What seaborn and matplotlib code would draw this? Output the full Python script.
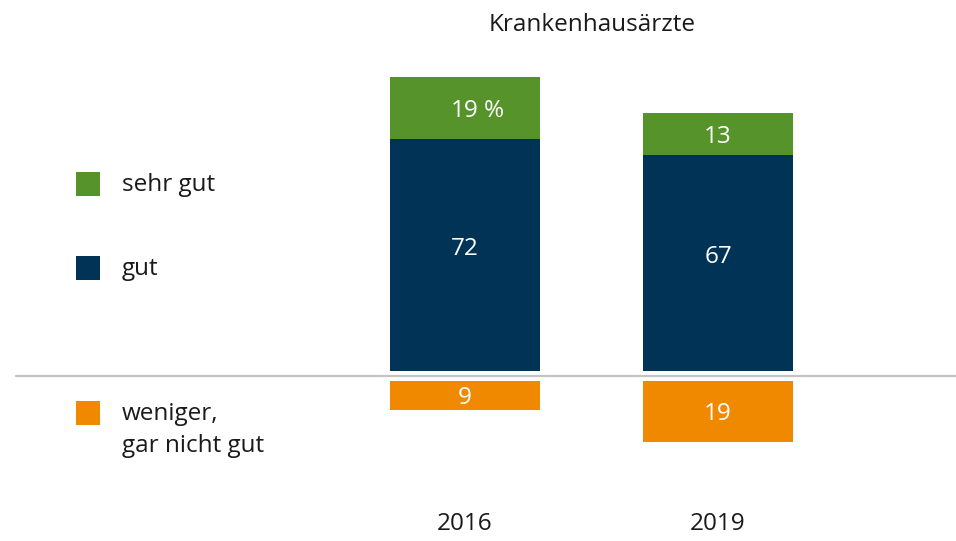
import matplotlib
matplotlib.use("Agg")
import matplotlib.pyplot as plt
import seaborn as sns
from matplotlib.patches import Rectangle

sns.set_theme(style="white")
plt.rcParams["font.family"] = ["Open Sans", "DejaVu Sans"]

# ---- data ----
title = "Krankenhausärzte"
years = ["2016", "2019"]
sehr_gut = [19, 13]
gut = [72, 67]
weniger = [9, 19]
legend_labels = ["sehr gut", "gut", "weniger,\ngar nicht gut"]

# ---- style ----
c_green = "#56942b"
c_navy = "#003356"
c_orange = "#f08800"
c_line = "#c4c4c4"
W, H = 956, 541
px_per_unit = 3.23
baseline_px = 376
gap = 1.45
fs = 17.5
bar_w = 150 / 253
dy = -3 / px_per_unit  # text vertical tweak

fig = plt.figure(figsize=(W / 100, H / 100), dpi=100)
ax = fig.add_axes([0, 0, 1, 1])

gut_bottom = [gap] * len(years)
green_bottom = [gap + g for g in gut]
neg_heights = [-w for w in weniger]

sns.barplot(x=years, y=gut, bottom=gut_bottom, color=c_navy, saturation=1,
            width=bar_w, errorbar=None, ax=ax, linewidth=0)
sns.barplot(x=years, y=sehr_gut, bottom=green_bottom, color=c_green, saturation=1,
            width=bar_w, errorbar=None, ax=ax, linewidth=0)
sns.barplot(x=years, y=neg_heights, bottom=[-gap] * len(years), color=c_orange,
            saturation=1, width=bar_w, errorbar=None, ax=ax, linewidth=0)

# axes scaling: x=0 at 465px, 1 unit = 253px
ax.set_xlim(-465 / 253, (W - 465) / 253)
ax.set_ylim(-(H - baseline_px) / px_per_unit, baseline_px / px_per_unit)
ax.axis("off")

# baseline
ax.axhline(0, xmin=16 / W, xmax=1, color=c_line, lw=1.6)

# value labels
for i in range(len(years)):
    yg = gap + gut[i] + sehr_gut[i] / 2 + dy
    ax.text(i, yg, str(sehr_gut[i]), ha="center", va="center", color="white", fontsize=fs)
    if i == 0:
        ax.annotate("%", (i, yg), xytext=(21, 0), textcoords="offset points",
                    ha="center", va="center", color="white", fontsize=fs)
    yn = gap + gut[i] / 2 + 2.7 + dy
    ax.text(i, yn, str(gut[i]), ha="center", va="center", color="white", fontsize=fs)
    yo = -gap - weniger[i] / 2 + dy
    ax.text(i, yo, str(weniger[i]), ha="center", va="center", color="white", fontsize=fs)
    ax.text(i, -(524 - baseline_px) / px_per_unit, years[i], ha="center",
            va="center", color="#1a1a1a", fontsize=fs)

fig.text(592 / W, 1 - 25 / H, title, ha="center", va="center", color="#1a1a1a", fontsize=fs)

# legend (manual keys)
leg_colors = [c_green, c_navy, c_orange]
leg_y = [184, 268, 413]
for col, yy, lab in zip(leg_colors, leg_y, legend_labels):
    r = Rectangle((76 / W, 1 - (yy + 12) / H), 24 / W, 24 / H,
                  transform=fig.transFigure, facecolor=col, edgecolor="none", clip_on=False)
    ax.add_artist(r)
    fig.text(122 / W, 1 - (yy - 11) / H, lab, ha="left", va="top", color="#1a1a1a",
             fontsize=fs, linespacing=1.42)

fig.savefig("out.png", dpi=100, facecolor="white")
